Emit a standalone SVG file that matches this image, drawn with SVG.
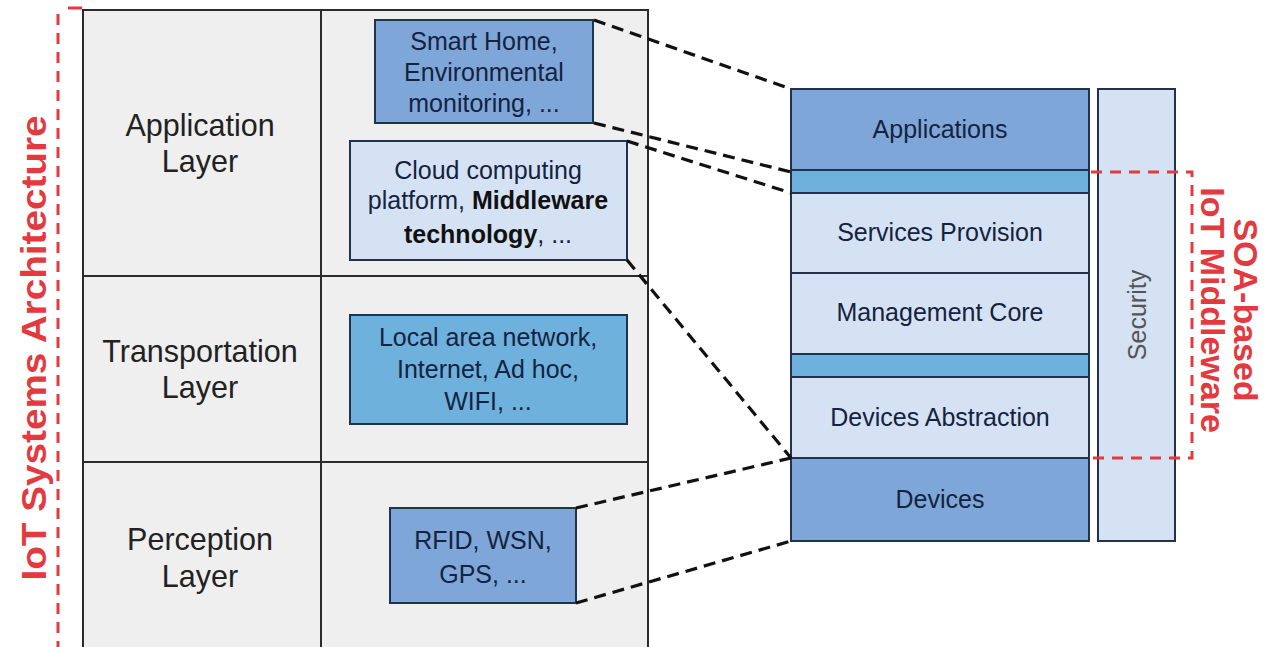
<svg xmlns="http://www.w3.org/2000/svg" width="1276" height="647" viewBox="0 0 1276 647">
<style>
text{font-family:"Liberation Sans",Arial,sans-serif}
.lbl{font-size:30.5px;fill:#222;text-anchor:middle}
.bt{font-size:25px;fill:#14233f;text-anchor:middle}
.grid{stroke:#2b2b2b;stroke-width:2;fill:none}
.box{stroke:#22324a;stroke-width:2}
.mid{fill:#7fa6d8}
.light{fill:#d5e2f3}
.sky{fill:#6eb1dd}
.red{stroke:#e23a3f;stroke-width:3;stroke-dasharray:11 8;fill:none}
.rt{font-weight:bold;fill:#e23a3f;text-anchor:middle}
.conn{stroke:#111;stroke-width:3.2;stroke-dasharray:12 7;fill:none}
</style>
<rect width="1276" height="647" fill="#fff"/>
<g id="iot-arch-frame">
<line class="red" x1="58" y1="14" x2="58" y2="647"/>
<line class="red" x1="68" y1="8" x2="82" y2="8" style="stroke-dasharray:none"/>
<text class="rt" font-size="35" transform="translate(46,348) rotate(-90)" textLength="465" lengthAdjust="spacingAndGlyphs">IoT Systems Architecture</text>
</g>
<g id="table">
<rect x="83" y="10" width="565" height="650" fill="#efefef"/>
<path class="grid" d="M83 660V10H648V660M321 10V660M83 276H648M83 462H648"/>
</g>
<g id="application-layer"><text class="lbl" x="200" y="136">Application</text><text class="lbl" x="200" y="172">Layer</text></g>
<g id="transportation-layer"><text class="lbl" x="200" y="362">Transportation</text><text class="lbl" x="200" y="398">Layer</text></g>
<g id="perception-layer"><text class="lbl" x="200" y="550">Perception</text><text class="lbl" x="200" y="587">Layer</text></g>
<g id="smart-home">
<rect class="box mid" x="375" y="20" width="218" height="103"/>
<text class="bt" x="484" y="50">Smart Home,</text><text class="bt" x="484" y="81">Environmental</text><text class="bt" x="484" y="112">monitoring, ...</text>
</g>
<g id="cloud">
<rect class="box light" x="350" y="141" width="277" height="119"/>
<text class="bt" x="488" y="179">Cloud computing</text>
<text class="bt" x="488" y="209">platform, <tspan font-weight="bold" fill="#111">Middleware</tspan></text>
<text class="bt" x="488" y="243"><tspan font-weight="bold" fill="#111">technology</tspan>, ...</text>
</g>
<g id="network">
<rect class="box sky" x="350" y="315" width="277" height="109"/>
<text class="bt" x="488" y="346">Local area network,</text><text class="bt" x="488" y="378">Internet, Ad hoc,</text><text class="bt" x="488" y="410">WIFI, ...</text>
</g>
<g id="rfid">
<rect class="box mid" x="390" y="508" width="186" height="95"/>
<text class="bt" x="483" y="549">RFID, WSN,</text><text class="bt" x="483" y="583">GPS, ...</text>
</g>
<g id="applications"><rect class="box mid" x="791" y="89" width="298" height="81"/><text class="bt" x="940" y="138">Applications</text></g>
<g id="band-top"><rect class="box sky" x="791" y="170" width="298" height="23"/></g>
<g id="services-provision"><rect class="box light" x="791" y="193" width="298" height="80"/><text class="bt" x="940" y="241">Services Provision</text></g>
<g id="management-core"><rect class="box light" x="791" y="273" width="298" height="81"/><text class="bt" x="940" y="321">Management Core</text></g>
<g id="band-mid"><rect class="box sky" x="791" y="354" width="298" height="23"/></g>
<g id="devices-abstraction"><rect class="box light" x="791" y="377" width="298" height="81"/><text class="bt" x="940" y="426">Devices Abstraction</text></g>
<g id="devices"><rect class="box mid" x="791" y="458" width="298" height="83"/><text class="bt" x="940" y="508">Devices</text></g>
<g id="security"><rect class="box light" x="1098" y="89" width="77" height="452"/><text class="bt" style="fill:#555" transform="translate(1146,315) rotate(-90)">Security</text></g>
<g id="soa-middleware">
<path class="red" d="M1091 172H1192V458H1091"/>
<text class="rt" font-size="34" transform="translate(1234,310) rotate(90)">SOA-based</text>
<text class="rt" font-size="34" transform="translate(1201,310) rotate(90)">IoT Middleware</text>
</g>
<g id="connectors">
<line class="conn" x1="594" y1="20" x2="791" y2="89"/>
<line class="conn" x1="594" y1="123" x2="791" y2="172"/>
<line class="conn" x1="627" y1="141" x2="791" y2="193"/>
<line class="conn" x1="627" y1="260" x2="791" y2="458"/>
<line class="conn" x1="576" y1="508" x2="791" y2="458"/>
<line class="conn" x1="576" y1="603" x2="791" y2="541"/>
</g>
</svg>
